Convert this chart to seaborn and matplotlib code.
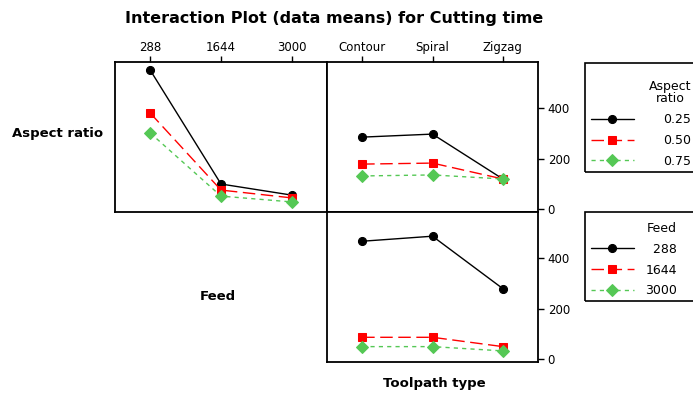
import matplotlib
matplotlib.use("Agg")
import matplotlib.pyplot as plt
from matplotlib.patches import Rectangle
import seaborn as sns
import pandas as pd
import numpy as np

# ---- data ----
feed_levels = ["288", "1644", "3000"]
aspect_levels = ["0.25", "0.50", "0.75"]
toolpath_levels = ["Contour", "Spiral", "Zigzag"]

# Aspect ratio x Feed (top-left panel)
ar025_by_feed = [550, 99, 55]
ar050_by_feed = [380, 75, 44]
ar075_by_feed = [301, 51, 28]

# Aspect ratio x Toolpath type (top-right panel)
ar025_by_tool = [285, 297, 119]
ar050_by_tool = [178, 182, 119]
ar075_by_tool = [131, 135, 119]

# Feed x Toolpath type (bottom-right panel)
f288_by_tool = [467, 487, 279]
f1644_by_tool = [86, 86, 49]
f3000_by_tool = [49, 49, 32]

y_ticks = [0, 200, 400]

title = "Interaction Plot (data means) for Cutting time"

# ---- style ----
sns.set_theme(style="white", rc={
    "axes.edgecolor": "black", "text.color": "black",
    "xtick.color": "black", "ytick.color": "black",
    "axes.labelcolor": "black", "axes.linewidth": 1.3,
})
plt.rcParams['font.family'] = ['DejaVu Sans']

colors = ["#000000", "#FF0000", "#55C855"]
markers = ["o", "s", "D"]
linestyles = ["-", (0, (9, 4)), (0, (3, 3))]

W, H = 693, 394
fig = plt.figure(figsize=(W / 100, H / 100), dpi=100)


def axes_px(x0, y0, x1, y1):
    return fig.add_axes([x0 / W, 1 - y1 / H, (x1 - x0) / W, (y1 - y0) / H])


ax_tl = axes_px(115, 62, 327, 212)
ax_tr = axes_px(327, 62, 538, 212)
ax_br = axes_px(327, 212, 538, 362)


def long_df(xname, xlevels, hname, hlevels, series):
    rows = []
    for hl, vals in zip(hlevels, series):
        for xl, v in zip(xlevels, vals):
            rows.append({xname: xl, hname: hl, "Cutting time": v})
    return pd.DataFrame(rows)


df_tl = long_df("Feed", feed_levels, "Aspect ratio", aspect_levels,
                [ar025_by_feed, ar050_by_feed, ar075_by_feed])
df_tr = long_df("Toolpath type", toolpath_levels, "Aspect ratio", aspect_levels,
                [ar025_by_tool, ar050_by_tool, ar075_by_tool])
df_br = long_df("Toolpath type", toolpath_levels, "Feed", feed_levels,
                [f288_by_tool, f1644_by_tool, f3000_by_tool])

common = dict(y="Cutting time", markers=markers, linestyles=linestyles,
              errorbar=None, markersize=5.8, linewidth=1.0)

sns.pointplot(data=df_tl, x="Feed", hue="Aspect ratio", order=feed_levels,
              hue_order=aspect_levels, palette=colors, ax=ax_tl, legend=False, **common)
sns.pointplot(data=df_tr, x="Toolpath type", hue="Aspect ratio", order=toolpath_levels,
              hue_order=aspect_levels, palette=colors, ax=ax_tr, legend=True, **common)
sns.pointplot(data=df_br, x="Toolpath type", hue="Feed", order=toolpath_levels,
              hue_order=feed_levels, palette=colors, ax=ax_br, legend=True, **common)

ylim = (-12, 583)
for ax in (ax_tl, ax_tr, ax_br):
    ax.set_ylim(*ylim)
    ax.set_xlim(-0.5, 2.5)
    ax.set_xlabel("")
    ax.set_ylabel("")
    for s in ax.spines.values():
        s.set_color("black")
        s.set_linewidth(1.3)

# top x ticks
for ax in (ax_tl, ax_tr):
    ax.tick_params(axis="x", bottom=False, labelbottom=False, top=True, labeltop=True,
                   direction="out", length=4, width=1.0, labelsize=8.5, pad=2)
ax_br.tick_params(axis="x", bottom=False, labelbottom=False, top=False, labeltop=False)

ax_tl.tick_params(axis="y", left=False, labelleft=False, right=False, labelright=False)
for ax in (ax_tr, ax_br):
    ax.set_yticks(y_ticks)
    ax.set_yticklabels([str(v) for v in y_ticks])
    ax.tick_params(axis="y", left=False, labelleft=False, right=True, labelright=True,
                   direction="out", length=4, width=1.0, labelsize=8.5, pad=3)

# ---- legends ----
def make_legend(ax, title_text, labels, x_px, y_px, textpad):
    old = ax.get_legend()
    handles = old.legend_handles
    old.remove()
    leg = ax.legend(handles=handles, labels=labels, title=title_text,
                    loc="upper left", bbox_to_anchor=(x_px / W, 1 - y_px / H),
                    bbox_transform=fig.transFigure, frameon=False,
                    borderpad=0, borderaxespad=0, handlelength=3.4,
                    handletextpad=textpad, labelspacing=0.62, fontsize=9,
                    title_fontsize=9, alignment="right")
    leg.get_title().set_multialignment("center")
    leg.get_title().set_linespacing(0.95)
    return leg


make_legend(ax_tr, "Aspect\nratio", aspect_levels, 591, 80, 2.4)
make_legend(ax_br, "Feed", ["  288", "1644", "3000"], 591, 222, 0.95)

for (x0, y0, x1, y1) in [(585, 63, 702, 172), (585, 212, 702, 301)]:
    fig.add_artist(Rectangle((x0 / W, 1 - y1 / H), (x1 - x0) / W, (y1 - y0) / H,
                             transform=fig.transFigure, fill=False, ec="black",
                             lw=1.2, clip_on=False))

# ---- texts ----
fig.text(334 / W, 1 - 18 / H, title, ha="center", va="center",
         fontsize=11.5, fontweight="bold")
fig.text(58 / W, 1 - 133 / H, "Aspect ratio", ha="center", va="center",
         fontsize=9.5, fontweight="bold")
fig.text(218 / W, 1 - 296 / H, "Feed", ha="center", va="center",
         fontsize=9.5, fontweight="bold")
fig.text(434 / W, 1 - 383 / H, "Toolpath type", ha="center", va="center",
         fontsize=9.5, fontweight="bold")

fig.savefig("out.png", dpi=100)
